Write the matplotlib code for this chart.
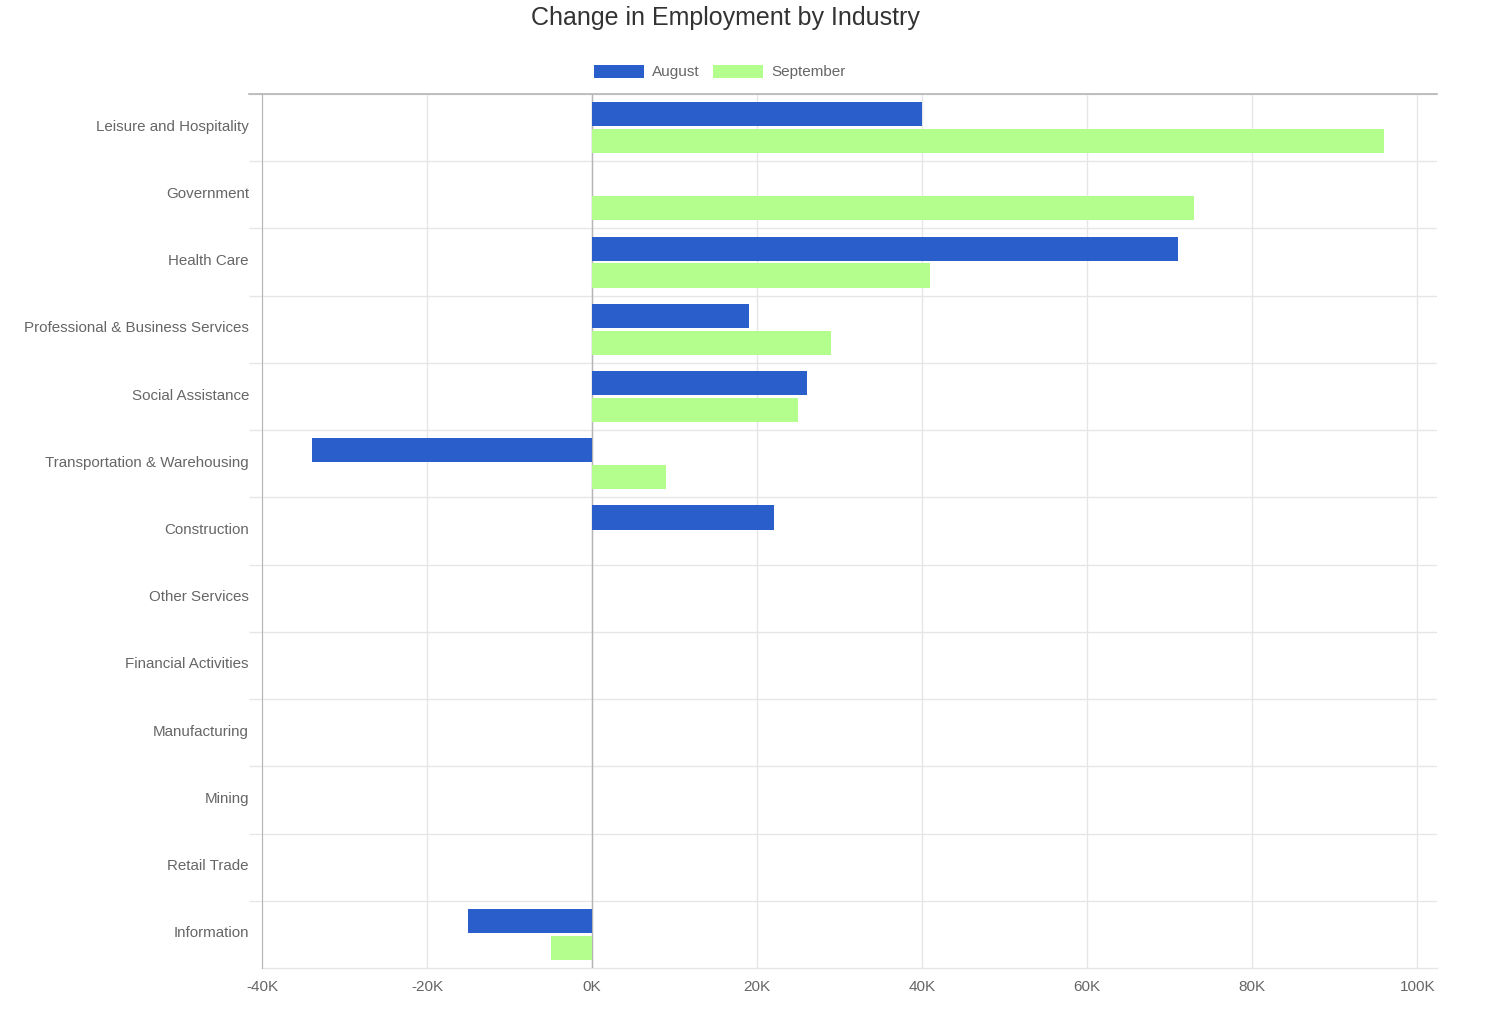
import matplotlib
matplotlib.use("Agg")
import matplotlib.pyplot as plt
import matplotlib.transforms as mtransforms
import numpy as np

categories = ["Leisure and Hospitality", "Government", "Health Care",
              "Professional & Business Services", "Social Assistance",
              "Transportation & Warehousing", "Construction", "Other Services",
              "Financial Activities", "Manufacturing", "Mining", "Retail Trade",
              "Information"]
august = [40000, 0, 71000, 19000, 26000, -34000, 22000, 0, 0, 0, 0, 0, -15000]
september = [96000, 73000, 41000, 29000, 25000, 9000, 0, 0, 0, 0, 0, 0, -5000]
x_ticks = [-40000, -20000, 0, 20000, 40000, 60000, 80000, 100000]
x_tick_labels = ["-40K", "-20K", "0K", "20K", "40K", "60K", "80K", "100K"]

plt.rcParams['font.family'] = ['Liberation Sans', 'DejaVu Sans']

W, H = 1487, 1027
fig = plt.figure(figsize=(W / 100, H / 100), dpi=100)
ax = fig.add_axes([262 / W, 1 - 968 / H, (1437 - 262) / W, (968 - 94) / H])

blue = "#2a5fcb"
green = "#b3fe8c"
y = np.arange(len(categories))
ax.barh(y - 0.2, august, height=0.36, color=blue, edgecolor="none", linewidth=0,
        label="August", zorder=3)
ax.barh(y + 0.2, september, height=0.36, color=green, edgecolor="none", linewidth=0,
        label="September", zorder=3)

ax.set_xlim(-40000, 102400)
ax.set_ylim(len(categories) - 0.5, -0.5)

ax.set_xticks(x_ticks)
ax.set_xticklabels(x_tick_labels)
ax.set_yticks(y)
ax.set_yticklabels(categories)
ax.set_yticks(np.arange(len(categories)) - 0.5, minor=True)

grid_c = "#e6e6e6"
ax.grid(axis="x", which="major", color=grid_c, linewidth=1, zorder=0)
ax.grid(axis="y", which="minor", color=grid_c, linewidth=1, zorder=0)
ax.axhline(len(categories) - 0.5, color=grid_c, linewidth=1, zorder=0, clip_on=False)
ax.tick_params(axis="y", which="major", length=0, pad=9.4, labelsize=10.9, labelcolor="#666666")
ax.tick_params(axis="y", which="minor", length=9.4, width=1, color=grid_c)
ax.tick_params(axis="x", which="major", length=0, pad=8.5, labelsize=11, labelcolor="#666666")

offset = mtransforms.ScaledTranslation(0, 2.5 / 100, fig.dpi_scale_trans)
for lbl in ax.get_yticklabels():
    lbl.set_transform(lbl.get_transform() + offset)

ax.axvline(0, color="#b5b5b5", linewidth=1, zorder=2)

for s in ["right", "bottom"]:
    ax.spines[s].set_visible(False)
ax.spines["left"].set_color("#b5b5b5")
ax.spines["top"].set_color("#b5b5b5")
ax.spines["top"].set_linewidth(1.2)
ax.plot([-0.011, 0], [1, 1], transform=ax.transAxes, color="#b5b5b5", linewidth=1.2,
        clip_on=False, zorder=4)

fig.text(0.5 * (532 + 919) / W, 1 - 18 / H, "Change in Employment by Industry",
         ha="center", va="center", fontsize=18, color="#333333")

leg = fig.legend(loc="center", bbox_to_anchor=((596 + 843) / 2 / W, 1 - 72 / H), ncol=2,
                 frameon=False, fontsize=11, handlelength=3.3, handleheight=0.95,
                 handletextpad=0.5, columnspacing=0.9, labelcolor="#666666")

fig.savefig("out.png", dpi=100, facecolor="white")
